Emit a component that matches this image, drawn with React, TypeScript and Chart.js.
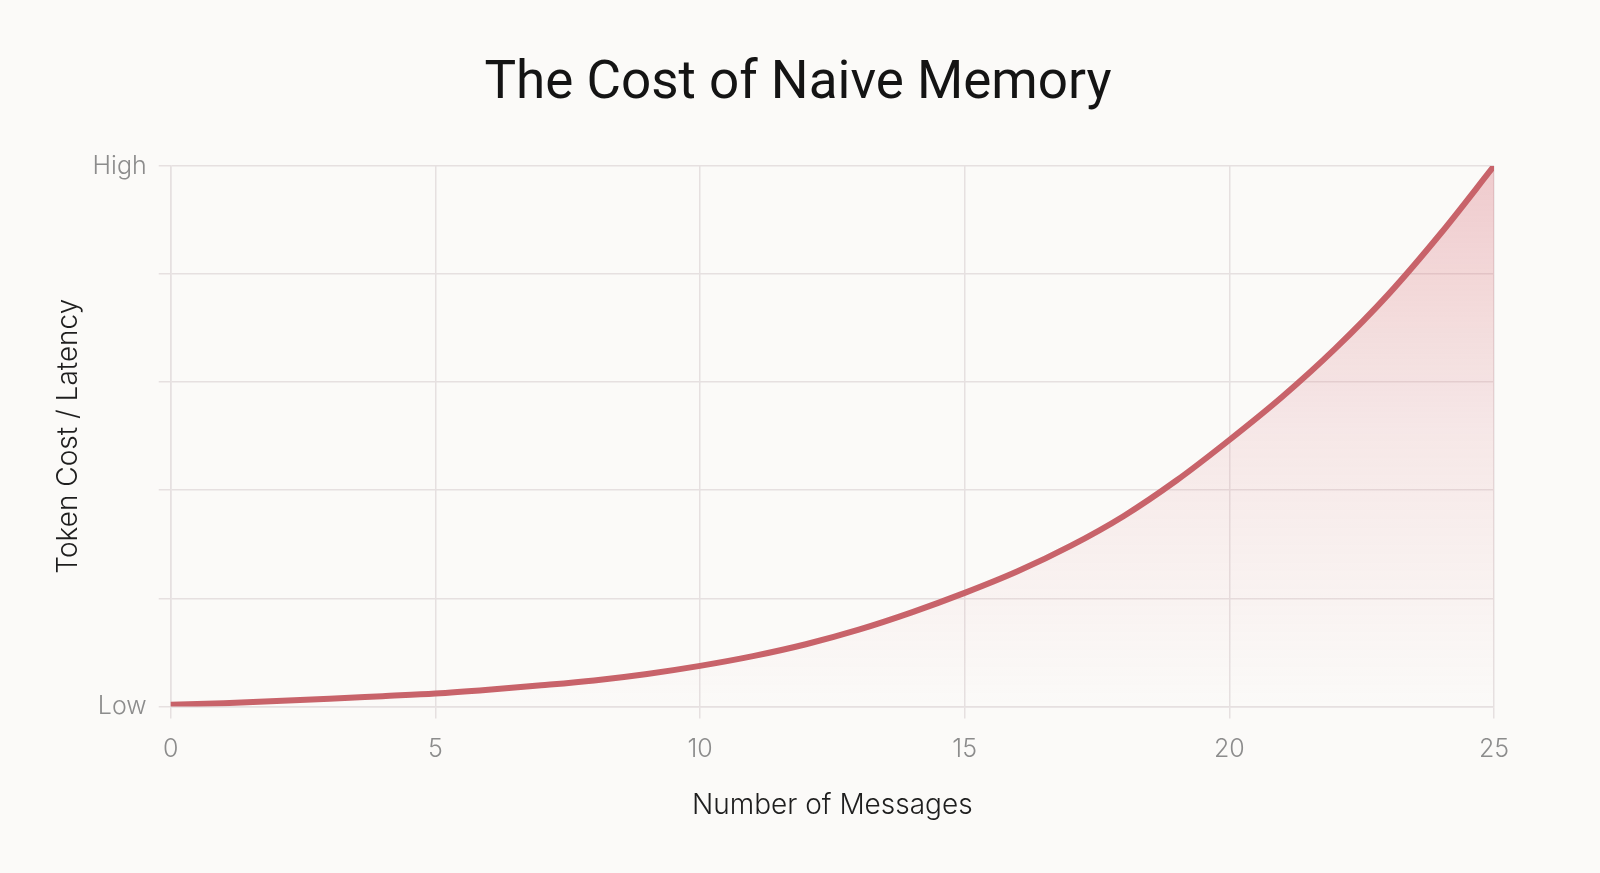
import React, { useEffect, useRef } from "react";
import { Chart, registerables } from "chart.js";

Chart.register(...registerables);

const messages = [0, 1, 2, 3, 4, 5, 6, 7, 8, 9, 10, 11, 12, 13, 14, 15, 16, 17, 18, 19, 20, 21, 22, 23, 24, 25];
const cost = [0.3, 0.6, 1.0, 1.4, 1.9, 2.4, 3.1, 3.9, 4.8, 6.0, 7.5, 9.3, 11.5, 14.2, 17.4, 21.0, 25.0, 29.7, 35.2, 41.8, 49.3, 57.3, 66.2, 76.2, 87.6, 100];
const xTicks = [0, 5, 10, 15, 20, 25];
const yTickValues = [0, 20, 40, 60, 80, 100];
const yTickLabels = ["Low", "", "", "", "", "High"];

const TITLE = "The Cost of Naive Memory";
const X_TITLE = "Number of Messages";
const Y_TITLE = "Token Cost / Latency";

const titlePlugin = {
  id: "centeredTitle",
  afterDraw(chart: any) {
    const ctx = chart.ctx;
    ctx.save();
    ctx.font = "400 53px Roboto";
    ctx.fillStyle = "#141414";
    ctx.textAlign = "center";
    ctx.textBaseline = "middle";
    ctx.fillText(TITLE, chart.width / 2 - 2, 85);
    ctx.restore();
  },
};

export default function App() {
  const ref = useRef<HTMLCanvasElement | null>(null);

  useEffect(() => {
    if (!ref.current) return;
    const chart = new Chart(ref.current, {
      type: "line",
      data: {
        datasets: [
          {
            data: messages.map((m, i) => ({ x: m, y: cost[i] })),
            borderColor: "#c8636a",
            borderWidth: 6,
            borderCapStyle: "round",
            pointRadius: 0,
            tension: 0.4,
            cubicInterpolationMode: "monotone",
            fill: "origin",
            backgroundColor: (ctx: any) => {
              const area = ctx.chart.chartArea;
              if (!area) return "rgba(215,105,115,0.2)";
              const g = ctx.chart.ctx.createLinearGradient(0, area.top, 0, area.bottom);
              g.addColorStop(0, "rgba(215,105,115,0.32)");
              g.addColorStop(0.5, "rgba(215,105,115,0.12)");
              g.addColorStop(1, "rgba(215,105,115,0.0)");
              return g;
            },
          },
        ],
      },
      plugins: [titlePlugin],
      options: {
        animation: false,
        responsive: true,
        maintainAspectRatio: false,
        layout: { padding: { top: 166, right: 106, bottom: 51, left: 45 } },
        plugins: {
          legend: { display: false },
          tooltip: { enabled: false },
          title: { display: false },
        },
        scales: {
          x: {
            type: "linear",
            min: 0,
            max: 25,
            afterBuildTicks: (axis: any) => {
              axis.ticks = xTicks.map((v) => ({ value: v }));
            },
            ticks: {
              color: "#8c8c8c",
              font: { family: "Inter", size: 25, weight: 300 },
              padding: 16,
            },
            grid: { color: "#e6e0e0", lineWidth: 1.5, tickLength: 12 },
            border: { color: "#e6e0e0", width: 1.5 },
            title: {
              display: true,
              text: X_TITLE,
              color: "#1e1e1e",
              font: { family: "Inter", size: 28, weight: 300 },
              padding: { top: 8, bottom: 0 },
            },
          },
          y: {
            min: 0,
            max: 100,
            afterBuildTicks: (axis: any) => {
              axis.ticks = yTickValues.map((v) => ({ value: v }));
            },
            ticks: {
              color: "#8c8c8c",
              font: { family: "Inter", size: 25, weight: 300 },
              padding: 12,
              callback: (v: any) => {
                const i = yTickValues.indexOf(Number(v));
                return i >= 0 ? yTickLabels[i] : "";
              },
            },
            grid: { color: "#e6e0e0", lineWidth: 1.5, tickLength: 12 },
            border: { color: "#e6e0e0", width: 1.5 },
            title: {
              display: true,
              text: Y_TITLE,
              color: "#1e1e1e",
              font: { family: "Inter", size: 28, weight: 300 },
              padding: { top: 7, bottom: -5 },
            },
          },
        },
      },
    });
    return () => chart.destroy();
  }, []);

  return (
    <div style={{ position: "fixed", left: 0, top: 0, width: 1600, height: 873, background: "#fbfaf8" }}>
      <canvas ref={ref} />
    </div>
  );
}
